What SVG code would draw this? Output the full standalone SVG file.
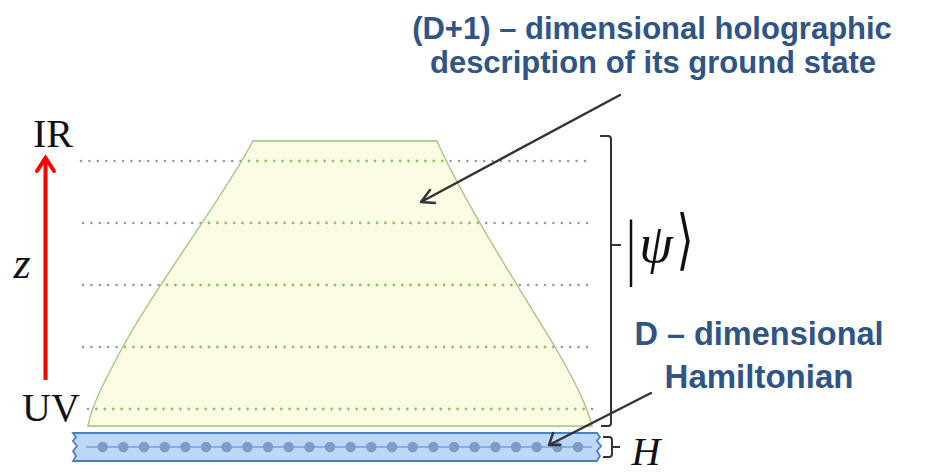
<svg xmlns="http://www.w3.org/2000/svg" width="947" height="474" viewBox="0 0 947 474">
<style>
.lbl{font-family:"Liberation Sans",Arial,sans-serif;font-weight:bold;fill:#2f5486;text-anchor:middle}
.serif{font-family:"Liberation Serif","DejaVu Serif",serif;fill:#111}
.dots{stroke:#9a9a9a;stroke-width:2.6;stroke-linecap:round;stroke-dasharray:0 8.4;fill:none}
.dotsg{stroke:#8cc46a;stroke-width:2.8;stroke-linecap:round;stroke-dasharray:0 8.4;fill:none}
.conn{stroke:#333;stroke-width:2.4;fill:none;stroke-linecap:round;stroke-linejoin:round}
.brk{stroke:#333;stroke-width:2;fill:none}
</style>
<defs>
<clipPath id="cp"><path d="M253,141 L437,141 C460,195 520,290 555,347 C572,377 585,400 592,426 L88,426 C92,405 105,380 125,343 C160,280 225,195 253,141 Z"/></clipPath>
</defs>
<g id="bulk">
<path d="M253,141 L437,141 C460,195 520,290 555,347 C572,377 585,400 592,426 L88,426 C92,405 105,380 125,343 C160,280 225,195 253,141 Z" fill="#fbfce3" stroke="#a8c98a" stroke-width="1.3"/>
</g>
<g id="layers">
<path class="dots" d="M81,161 H586 M83,223 H588 M83,285 H588 M83,347 H588 M88,409 H592"/>
<g clip-path="url(#cp)"><rect x="80" y="130" width="520" height="300" fill="#fbfce3"/><path class="dotsg" d="M81,161 H586 M83,223 H588 M83,285 H588 M83,347 H588 M88,409 H592"/></g>
<path d="M253,141 L437,141 C460,195 520,290 555,347 C572,377 585,400 592,426 L88,426 C92,405 105,380 125,343 C160,280 225,195 253,141 Z" fill="none" stroke="#a8c98a" stroke-width="1.3"/>
</g>
<g id="boundary">
<path d="M73,433 H597 L600,437 L597,441 L601,446 L597,451 L600,456 L597,461 H73 L76,456 L73,451 L77,446 L73,441 L76,437 Z" fill="#bcd8f6" stroke="#4a80c2" stroke-width="1.8"/>
<line x1="86" y1="447" x2="592" y2="447" stroke="#7e9fca" stroke-width="1.4"/>
<g fill="#7b9cc9">
<circle cx="102.7" cy="447" r="5.2"/><circle cx="123.4" cy="447" r="5.2"/><circle cx="144.0" cy="447" r="5.2"/><circle cx="164.7" cy="447" r="5.2"/><circle cx="185.4" cy="447" r="5.2"/><circle cx="206.0" cy="447" r="5.2"/><circle cx="226.7" cy="447" r="5.2"/><circle cx="247.4" cy="447" r="5.2"/><circle cx="268.0" cy="447" r="5.2"/><circle cx="288.7" cy="447" r="5.2"/><circle cx="309.4" cy="447" r="5.2"/><circle cx="330.0" cy="447" r="5.2"/><circle cx="350.7" cy="447" r="5.2"/><circle cx="371.4" cy="447" r="5.2"/><circle cx="392.0" cy="447" r="5.2"/><circle cx="412.7" cy="447" r="5.2"/><circle cx="433.4" cy="447" r="5.2"/><circle cx="454.0" cy="447" r="5.2"/><circle cx="474.7" cy="447" r="5.2"/><circle cx="495.4" cy="447" r="5.2"/><circle cx="516.0" cy="447" r="5.2"/><circle cx="536.7" cy="447" r="5.2"/><circle cx="557.4" cy="447" r="5.2"/><circle cx="578.0" cy="447" r="5.2"/>
</g>
</g>
<g id="axis">
<line x1="45.5" y1="380" x2="45.5" y2="158" stroke="#ff0000" stroke-width="4"/>
<polyline points="37,171 45.5,158 54,171" fill="none" stroke="#ff0000" stroke-width="4" stroke-linecap="round" stroke-linejoin="miter"/>
<text class="serif" x="53" y="147" font-size="40" text-anchor="middle">IR</text>
<text class="serif" x="51" y="421" font-size="40" text-anchor="middle">UV</text>
<text class="serif" x="22" y="278" font-size="44" font-style="italic" text-anchor="middle">z</text>
</g>
<g id="psi-bracket">
<path class="brk" d="M600,136 H608 Q611,136 611,139 V423 Q611,426 608,426 H601 M611,245 H621"/>
<text class="serif" x="631" y="261" font-size="50" text-anchor="middle" transform="translate(0,-120) scale(1,1.5)">|</text>
<text class="serif" x="656" y="262" font-size="54" font-style="italic" text-anchor="middle">ψ</text>
<text x="685" y="262" font-size="44" text-anchor="middle" font-family="DejaVu Serif,serif" fill="#111" transform="translate(0,-131) scale(1,1.5)">⟩</text>
</g>
<g id="H-bracket">
<path class="brk" d="M603,437 H609 Q612,437 612,440 V454 Q612,457 609,457 H603 M612,447 H620"/>
<text class="serif" x="646" y="465" font-size="40" font-style="italic" text-anchor="middle">H</text>
</g>
<g id="label-bulk">
<text class="lbl" x="652" y="39" font-size="31">(D+1) – dimensional holographic</text>
<text class="lbl" x="653" y="73" font-size="31">description of its ground state</text>
</g>
<g id="label-ham">
<text class="lbl" x="759" y="345" font-size="32.5">D – dimensional</text>
<text class="lbl" x="759" y="388" font-size="33">Hamiltonian</text>
</g>
<g id="connectors">
<path class="conn" d="M620,95 L421,202 M430,190 L421,202 L435,203"/>
<path class="conn" d="M651,393 L549,445 M553,433 L549,445 L560,445"/>
</g>
</svg>
